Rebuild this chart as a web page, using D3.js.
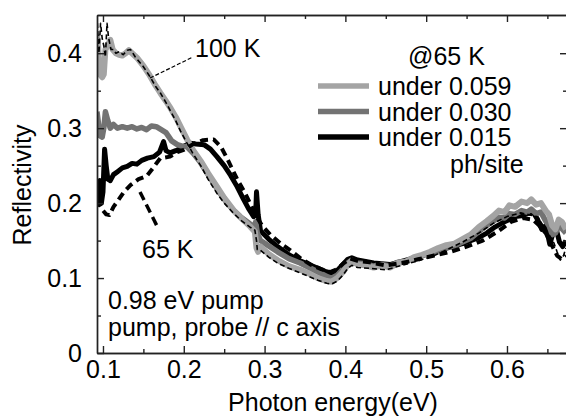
<!DOCTYPE html>
<html>
<head>
<meta charset="utf-8">
<script src="https://cdn.jsdelivr.net/npm/d3@7"></script>
<style>
  body { margin: 0; background: #fff; }
  text { font-family: "Liberation Sans", Arial, sans-serif; fill: #000; }
</style>
</head>
<body>
<script>
const W = 566;
const H = 416;
const Left = 97;
const Right = 567;
const Top = 15;
const Bottom = 353;
const FontSize = 25;

// photon energy (eV) vs reflectivity
const under059 = [[0.0926,0.425],[0.094,0.41],[0.096,0.372],[0.099,0.368],[0.101,0.372],[0.103,0.405],[0.106,0.41],[0.109,0.418],[0.112,0.405],[0.116,0.4],[0.12,0.398],[0.124,0.397],[0.128,0.4],[0.132,0.404],[0.136,0.4],[0.142,0.394],[0.15,0.383],[0.158,0.37],[0.165,0.357],[0.171,0.347],[0.178,0.336],[0.184,0.326],[0.19,0.315],[0.196,0.302],[0.204,0.285],[0.212,0.27],[0.221,0.256],[0.23,0.24],[0.241,0.222],[0.25,0.207],[0.262,0.19],[0.272,0.179],[0.282,0.169],[0.288,0.162],[0.29,0.14],[0.292,0.135],[0.295,0.142],[0.305,0.132],[0.316,0.124],[0.33,0.116],[0.344,0.111],[0.355,0.106],[0.366,0.1],[0.377,0.096],[0.383,0.095],[0.39,0.1],[0.397,0.108],[0.403,0.118],[0.408,0.123],[0.415,0.118],[0.425,0.117],[0.435,0.114],[0.445,0.117],[0.455,0.114],[0.465,0.12],[0.475,0.122],[0.485,0.128],[0.495,0.131],[0.505,0.135],[0.515,0.14],[0.525,0.144],[0.535,0.146],[0.545,0.152],[0.555,0.158],[0.565,0.168],[0.575,0.176],[0.583,0.183],[0.59,0.19],[0.597,0.188],[0.603,0.197],[0.61,0.195],[0.618,0.202],[0.625,0.2],[0.63,0.205],[0.636,0.198],[0.642,0.2],[0.648,0.19],[0.652,0.185],[0.656,0.17],[0.66,0.165],[0.664,0.178],[0.668,0.175],[0.673,0.165]];

const under030 = [[0.0926,0.322],[0.094,0.31],[0.096,0.29],[0.099,0.288],[0.101,0.3],[0.103,0.322],[0.106,0.31],[0.109,0.3],[0.113,0.305],[0.118,0.3],[0.124,0.302],[0.13,0.3],[0.136,0.302],[0.142,0.299],[0.148,0.301],[0.154,0.298],[0.16,0.303],[0.166,0.302],[0.172,0.298],[0.178,0.294],[0.185,0.283],[0.192,0.278],[0.198,0.276],[0.204,0.275],[0.212,0.266],[0.22,0.255],[0.23,0.238],[0.24,0.221],[0.25,0.205],[0.26,0.192],[0.27,0.182],[0.28,0.174],[0.287,0.168],[0.289,0.175],[0.291,0.16],[0.295,0.15],[0.305,0.143],[0.316,0.135],[0.33,0.126],[0.344,0.12],[0.355,0.114],[0.366,0.108],[0.377,0.102],[0.383,0.1],[0.39,0.104],[0.397,0.112],[0.403,0.12],[0.408,0.124],[0.415,0.12],[0.425,0.119],[0.435,0.116],[0.445,0.118],[0.455,0.116],[0.465,0.121],[0.475,0.122],[0.485,0.127],[0.495,0.13],[0.505,0.133],[0.515,0.137],[0.525,0.14],[0.535,0.143],[0.545,0.148],[0.555,0.153],[0.565,0.162],[0.575,0.17],[0.583,0.176],[0.59,0.181],[0.597,0.18],[0.603,0.186],[0.61,0.185],[0.618,0.19],[0.625,0.188],[0.63,0.192],[0.636,0.186],[0.642,0.188],[0.648,0.176],[0.652,0.17],[0.656,0.158],[0.66,0.16],[0.664,0.17],[0.668,0.166],[0.673,0.16]];

const under015 = [[0.0926,0.195],[0.094,0.225],[0.096,0.23],[0.098,0.2],[0.1,0.215],[0.102,0.272],[0.104,0.25],[0.106,0.232],[0.109,0.23],[0.113,0.238],[0.118,0.242],[0.124,0.247],[0.13,0.249],[0.136,0.253],[0.142,0.252],[0.148,0.257],[0.155,0.26],[0.163,0.262],[0.17,0.268],[0.175,0.282],[0.178,0.27],[0.183,0.267],[0.19,0.27],[0.196,0.273],[0.202,0.277],[0.208,0.28],[0.215,0.279],[0.225,0.278],[0.233,0.272],[0.241,0.262],[0.25,0.25],[0.258,0.237],[0.266,0.222],[0.274,0.205],[0.28,0.193],[0.2865,0.182],[0.289,0.186],[0.29,0.215],[0.292,0.185],[0.295,0.163],[0.305,0.152],[0.316,0.142],[0.33,0.131],[0.344,0.123],[0.355,0.118],[0.366,0.113],[0.377,0.108],[0.383,0.107],[0.39,0.11],[0.397,0.118],[0.403,0.125],[0.408,0.127],[0.415,0.124],[0.425,0.122],[0.435,0.12],[0.445,0.119],[0.455,0.118],[0.465,0.121],[0.475,0.124],[0.485,0.127],[0.495,0.13],[0.505,0.134],[0.515,0.137],[0.525,0.14],[0.535,0.143],[0.545,0.146],[0.555,0.15],[0.565,0.154],[0.575,0.16],[0.585,0.168],[0.595,0.174],[0.603,0.178],[0.61,0.182],[0.618,0.183],[0.625,0.186],[0.633,0.187],[0.638,0.178],[0.643,0.165],[0.648,0.17],[0.653,0.145],[0.657,0.16],[0.661,0.165],[0.665,0.148],[0.669,0.142],[0.673,0.15]];

const k65 = [[0.0926,0.205],[0.096,0.198],[0.1,0.19],[0.104,0.185],[0.108,0.184],[0.113,0.195],[0.119,0.204],[0.126,0.215],[0.134,0.224],[0.144,0.232],[0.154,0.236],[0.162,0.247],[0.171,0.26],[0.183,0.262],[0.192,0.268],[0.2,0.271],[0.212,0.279],[0.224,0.284],[0.237,0.285],[0.246,0.275],[0.2535,0.26],[0.266,0.232],[0.275,0.215],[0.282,0.2],[0.29,0.182],[0.297,0.17],[0.307,0.158],[0.32,0.146],[0.332,0.137],[0.345,0.126],[0.357,0.118],[0.37,0.112],[0.381,0.108],[0.39,0.112],[0.398,0.12],[0.406,0.126],[0.415,0.123],[0.43,0.121],[0.45,0.117],[0.47,0.12],[0.49,0.125],[0.51,0.13],[0.53,0.135],[0.55,0.142],[0.57,0.15],[0.59,0.163],[0.605,0.175],[0.62,0.18],[0.632,0.178],[0.64,0.17],[0.648,0.16],[0.655,0.145],[0.662,0.13],[0.668,0.125],[0.673,0.13]];

const k100 = [[0.0926,0.451],[0.095,0.4],[0.097,0.44],[0.099,0.42],[0.101,0.41],[0.103,0.395],[0.105,0.44],[0.107,0.42],[0.11,0.405],[0.113,0.405],[0.116,0.4],[0.12,0.402],[0.125,0.398],[0.13,0.404],[0.134,0.405],[0.14,0.395],[0.15,0.382],[0.158,0.369],[0.165,0.356],[0.171,0.347],[0.178,0.334],[0.184,0.322],[0.19,0.31],[0.196,0.296],[0.204,0.28],[0.212,0.265],[0.221,0.25],[0.23,0.232],[0.241,0.213],[0.25,0.2],[0.262,0.186],[0.272,0.176],[0.282,0.168],[0.288,0.164],[0.29,0.15],[0.291,0.138],[0.295,0.137],[0.305,0.128],[0.316,0.12],[0.33,0.113],[0.344,0.107],[0.355,0.102],[0.366,0.097],[0.377,0.093],[0.383,0.092],[0.39,0.096],[0.397,0.104],[0.403,0.113],[0.408,0.117],[0.415,0.114],[0.43,0.113],[0.45,0.111],[0.47,0.117],[0.49,0.123],[0.51,0.13],[0.526,0.138],[0.545,0.148],[0.565,0.16],[0.583,0.173],[0.6,0.182],[0.617,0.187],[0.637,0.182],[0.645,0.17],[0.652,0.158],[0.658,0.147],[0.662,0.135],[0.666,0.124],[0.67,0.13],[0.673,0.14]];

const xMajor = [0.1, 0.2, 0.3, 0.4, 0.5, 0.6];
const xMinor = [0.15, 0.25, 0.35, 0.45, 0.55, 0.65];
const yMajor = [0, 0.1, 0.2, 0.3, 0.4];
const yMinor = [0.05, 0.15, 0.25, 0.35];
const legendLabels = ["under 0.059", "under 0.030", "under 0.015"];
const legendColors = ["#a4a4a4", "#737373", "#000"];

const x = d3.scaleLinear().domain([0.0926, 0.0926 + (Right - Left) / 808]).range([Left, Right]);
const y = d3.scaleLinear().domain([0, 0.451]).range([Bottom, Top]);

const svg = d3.select("body").append("svg")
    .attr("width", W)
    .attr("height", H);

svg.append("defs").append("clipPath")
    .attr("id", "plot")
    .append("rect")
    .attr("x", Left)
    .attr("y", Top)
    .attr("width", Right - Left)
    .attr("height", Bottom - Top);

const line = d3.line()
    .x(d => x(d[0]))
    .y(d => y(d[1]))
    .curve(d3.curveLinear);

const curves = svg.append("g").attr("clip-path", "url(#plot)");

// solid lines first, dashed ones over them
const series = [
    { data: under015, color: "#000", width: 5, dash: null },
    { data: under030, color: "#737373", width: 5.5, dash: null },
    { data: under059, color: "#a4a4a4", width: 6, dash: null },
    { data: k65, color: "#000", width: 4, dash: "8,5" },
    { data: k100, color: "#000", width: 1.6, dash: "5,3" }
];

series.forEach(s => {
    curves.append("path")
        .datum(s.data)
        .attr("d", line)
        .attr("fill", "none")
        .attr("stroke", s.color)
        .attr("stroke-width", s.width)
        .attr("stroke-linejoin", "round")
        .attr("stroke-dasharray", s.dash);
});

// axes: ticks point inward on all four sides
const axisColor = "#222";
const tickSize = 7;
const minorSize = 4;

const bottomAxis = d3.axisBottom(x).tickValues(xMajor).tickSizeInner(-tickSize).tickSizeOuter(0)
    .tickPadding(7).tickFormat(d3.format(".1f"));
const bottomMinor = d3.axisBottom(x).tickValues(xMinor).tickSizeInner(-minorSize).tickSizeOuter(0).tickFormat("");
const topAxis = d3.axisTop(x).tickValues(xMajor).tickSizeInner(-tickSize).tickSizeOuter(0).tickFormat("");
const topMinor = d3.axisTop(x).tickValues(xMinor).tickSizeInner(-minorSize).tickSizeOuter(0).tickFormat("");
const leftAxis = d3.axisLeft(y).tickValues(yMajor).tickSizeInner(-tickSize).tickSizeOuter(0)
    .tickPadding(15).tickFormat(d => d === 0 ? "0" : d3.format(".1f")(d));
const leftMinor = d3.axisLeft(y).tickValues(yMinor).tickSizeInner(-minorSize).tickSizeOuter(0).tickFormat("");
const rightAxis = d3.axisRight(y).tickValues(yMajor).tickSizeInner(-tickSize).tickSizeOuter(0).tickFormat("");
const rightMinor = d3.axisRight(y).tickValues(yMinor).tickSizeInner(-minorSize).tickSizeOuter(0).tickFormat("");

const axes = [
    [bottomAxis, 0, Bottom], [bottomMinor, 0, Bottom],
    [topAxis, 0, Top], [topMinor, 0, Top],
    [leftAxis, Left, 0], [leftMinor, Left, 0],
    [rightAxis, Right, 0], [rightMinor, Right, 0]
];

axes.forEach(a => {
    const g = svg.append("g")
        .attr("transform", `translate(${a[1]},${a[2]})`)
        .call(a[0]);
    g.selectAll("path, line").attr("stroke", axisColor).attr("stroke-width", 1.4);
    g.selectAll("text")
        .attr("font-size", FontSize)
        .attr("font-family", "Liberation Sans, Arial, sans-serif")
        .attr("fill", "#000");
});

// axis titles
svg.append("text")
    .attr("x", 333)
    .attr("y", 411)
    .attr("text-anchor", "middle")
    .attr("font-size", FontSize)
    .text("Photon energy(eV)");

svg.append("text")
    .attr("transform", "translate(31,185) rotate(-90)")
    .attr("text-anchor", "middle")
    .attr("font-size", FontSize)
    .text("Reflectivity");

// annotations
svg.append("line")
    .attr("x1", 150).attr("y1", 78)
    .attr("x2", 193).attr("y2", 57)
    .attr("stroke", "#000").attr("stroke-width", 1.2)
    .attr("stroke-dasharray", "4,2");

svg.append("text").attr("x", 195).attr("y", 57).attr("font-size", FontSize).text("100 K");

svg.append("line")
    .attr("x1", 140).attr("y1", 192)
    .attr("x2", 158).attr("y2", 228)
    .attr("stroke", "#000").attr("stroke-width", 3.5)
    .attr("stroke-dasharray", "9,5");

svg.append("text").attr("x", 142).attr("y", 258).attr("font-size", FontSize).text("65 K");

svg.append("text").attr("x", 108).attr("y", 309).attr("font-size", FontSize).text("0.98 eV pump");
svg.append("text").attr("x", 108).attr("y", 336).attr("font-size", FontSize).text("pump, probe // c axis");

// legend
svg.append("text").attr("x", 408).attr("y", 65).attr("font-size", FontSize).text("@65 K");

const legend = svg.append("g");
legendLabels.forEach((label, i) => {
    const ly = 86 + i * 25.5;
    legend.append("line")
        .attr("x1", 318).attr("x2", 369)
        .attr("y1", ly).attr("y2", ly)
        .attr("stroke", legendColors[i])
        .attr("stroke-width", 5.5);
    legend.append("text")
        .attr("x", 378)
        .attr("y", ly + 9)
        .attr("font-size", FontSize)
        .text(label);
});

svg.append("text").attr("x", 450).attr("y", 173).attr("font-size", FontSize).text("ph/site");
</script>
</body>
</html>
